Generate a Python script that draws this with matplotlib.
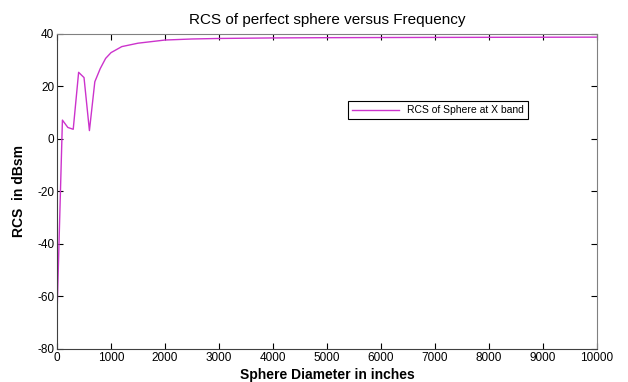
import matplotlib
matplotlib.use("Agg")
import matplotlib.pyplot as plt

plt.rcParams['font.family'] = ['Liberation Sans', 'DejaVu Sans']
plt.rcParams['axes.unicode_minus'] = False

# sphere diameter (inches) and RCS (dBsm)
diameter = [0, 100, 200, 300, 400, 500, 600, 700, 800, 900, 1000,
            1200, 1500, 2000, 2500, 3000, 4000, 5000, 7000, 10000]
rcs_db = [-67, 7.2, 4.4, 3.7, 25.4, 23.4, 3.2, 21.8, 26.8, 30.7, 32.9,
          35.2, 36.5, 37.7, 38.1, 38.3, 38.5, 38.6, 38.7, 38.8]

fig = plt.figure(figsize=(6.28, 3.82), dpi=100)
ax = fig.add_axes([0.0908, 0.0864, 0.8598, 0.8246])

ax.plot(diameter, rcs_db, color='#cc33cc', lw=1.0, label='RCS of Sphere at X band')

ax.set_xlim(0, 10000)
ax.set_ylim(-80, 40)
ax.set_xticks(range(0, 10001, 1000))
ax.set_yticks(range(-80, 41, 20))
ax.tick_params(direction='in', length=4, labelsize=8.5, top=True, right=True, pad=2)
for s in ['top', 'right']:
    ax.spines[s].set_color('#808080')
for s in ['left', 'bottom']:
    ax.spines[s].set_color('#404040')

ax.set_title('RCS of perfect sphere versus Frequency', fontsize=11, pad=7)
ax.set_xlabel('Sphere Diameter in inches', fontsize=10, fontweight='bold', labelpad=3)
ax.set_ylabel('RCS  in dBsm', fontsize=10, fontweight='bold', labelpad=8)

leg = ax.legend(loc='upper left', bbox_to_anchor=(0.539, 0.787), fontsize=7.5,
                fancybox=False, framealpha=1, edgecolor='black', borderaxespad=0,
                handlelength=4.5, borderpad=0.4)
leg.get_frame().set_linewidth(0.8)

fig.savefig('out.png', dpi=100)
